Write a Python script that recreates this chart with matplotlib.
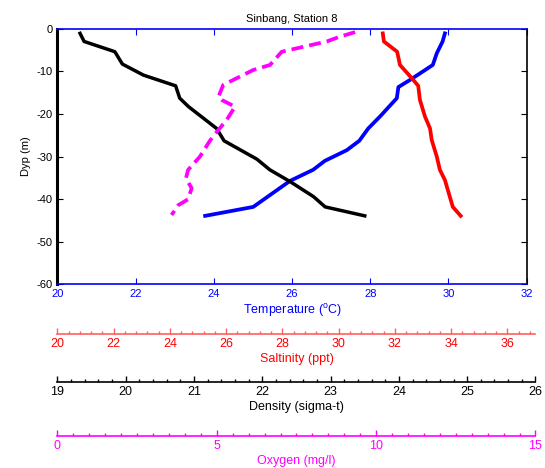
import numpy as np
import matplotlib
matplotlib.use('Agg')
import matplotlib.pyplot as plt
from matplotlib.ticker import MultipleLocator

plt.rcParams['font.family'] = ['Liberation Sans', 'DejaVu Sans']
plt.rcParams['mathtext.fontset'] = 'custom'
plt.rcParams['mathtext.rm'] = 'Liberation Sans'
plt.rcParams['axes.unicode_minus'] = False

# depth profiles (m)
temp_depth = [-1.1, -3.0, -5.8, -8.5, -10.5, -12.0, -13.7, -16.3, -20.6, -23.4,
              -26.3, -28.5, -31.0, -33.1, -35.7, -41.8, -43.9]
temp = [29.91, 29.85, 29.70, 29.60, 29.27, 29.02, 28.72, 28.68, 28.25, 27.95,
        27.72, 27.40, 26.84, 26.54, 25.95, 25.01, 23.78]

sal_depth = [-1.1, -3.0, -5.4, -8.5, -11.6, -13.4, -16.7, -20.6, -23.4, -26.1,
             -30.0, -33.1, -35.5, -41.8, -43.9]
sal = [31.57, 31.61, 32.08, 32.18, 32.60, 32.83, 32.89, 33.07, 33.25, 33.31,
       33.49, 33.60, 33.78, 34.06, 34.34]

dens_depth = [-1.1, -3.0, -5.4, -8.3, -10.9, -13.4, -16.3, -18.3, -23.4, -26.3,
              -30.6, -33.1, -35.9, -39.4, -41.8, -43.9]
dens = [19.33, 19.39, 19.84, 19.95, 20.26, 20.73, 20.79, 20.92, 21.33, 21.44,
        21.92, 22.11, 22.41, 22.75, 22.92, 23.50]

oxy_depth = [-0.8, -2.0, -3.0, -5.4, -8.5, -9.7, -12.0, -13.2, -16.0, -16.7,
             -18.3, -21.4, -24.2, -26.2, -30.0, -33.1, -35.1, -37.4, -40.0, -41.4, -43.7]
oxy = [9.34, 8.81, 8.45, 7.04, 6.67, 6.14, 5.52, 5.20, 5.05, 5.15,
       5.57, 5.31, 5.00, 4.79, 4.47, 4.10, 4.03, 4.21, 4.10, 3.79, 3.58]

temp_range = (20, 32)
sal_range = (20, 37)
dens_range = (19, 26)
oxy_range = (0, 15)

blue = '#0000ff'
red = '#ff0000'
mag = '#ff00ff'

fig = plt.figure(figsize=(5.45, 4.68), dpi=100)

L, B, W, H = 0.1051, 0.3921, 0.8613, 0.5466
l, w = 0.1055, 0.877

ax = fig.add_axes([L, B, W, H])
ax.set_xlim(*temp_range)
ax.set_ylim(-60, 0)
ax.xaxis.set_major_locator(MultipleLocator(2))
ax.yaxis.set_major_locator(MultipleLocator(10))
ax.tick_params(direction='in', top=True, right=True, length=4, labelsize=8)
ax.tick_params(axis='x', colors=blue, labelcolor=blue)
ax.tick_params(axis='y', colors='black')
ax.spines['top'].set_color(blue)
ax.spines['bottom'].set_color(blue)
ax.spines['left'].set_linewidth(2.2)
for s in ('top', 'bottom', 'right'):
    ax.spines[s].set_linewidth(1.2)
ax.set_xlabel(r'Temperature ($^\mathrm{o}$C)', color=blue, fontsize=9, labelpad=2)
ax.set_ylabel('Dyp (m)', fontsize=8, labelpad=4)
ax.set_title('Sinbang, Station 8', fontsize=8, pad=5)

ax.plot(temp, temp_depth, color=blue, lw=2.7, solid_joinstyle='round')


def overlay(rng):
    a, b = rng
    x0 = a + (L - l) / w * (b - a)
    x1 = a + (L + W - l) / w * (b - a)
    o = fig.add_axes([L, B, W, H], frameon=False)
    o.set_xlim(x0, x1)
    o.set_ylim(-60, 0)
    o.axis('off')
    return o


ov = overlay(sal_range)
ov.plot(sal, sal_depth, color=red, lw=2.7)
ov = overlay(dens_range)
ov.plot(dens, dens_depth, color='black', lw=2.5)
ov = overlay(oxy_range)
ov.plot(oxy, oxy_depth, color=mag, lw=2.7, dashes=(3.2, 1.6))


def lower_axis(y, rng, major, minor, color, label, tcolor=None):
    a = fig.add_axes([l, y, w, 0.0001])
    a.set_xlim(*rng)
    a.set_yticks([])
    for s in ('top', 'left', 'right'):
        a.spines[s].set_visible(False)
    a.spines['bottom'].set_color(color)
    a.spines['bottom'].set_linewidth(1.2)
    a.xaxis.set_major_locator(MultipleLocator(major))
    a.xaxis.set_minor_locator(MultipleLocator(minor))
    a.tick_params(which='major', direction='in', length=4, width=1, colors=color,
                  labelsize=9, labelcolor=tcolor or color, pad=3)
    a.tick_params(which='minor', direction='in', length=2.5, width=1, colors=color)
    a.set_xlabel(label, color=tcolor or color, fontsize=9, labelpad=2)
    a.patch.set_visible(False)
    return a


lower_axis(0.2863, sal_range, 2, 0.4, '#ff6060', 'Saltinity (ppt)', tcolor=red)
lower_axis(0.1838, dens_range, 1, 0.2, 'black', 'Density (sigma-t)')
lower_axis(0.0684, oxy_range, 5, 0.5, mag, 'Oxygen (mg/l)')

fig.savefig('out.png', dpi=100)
